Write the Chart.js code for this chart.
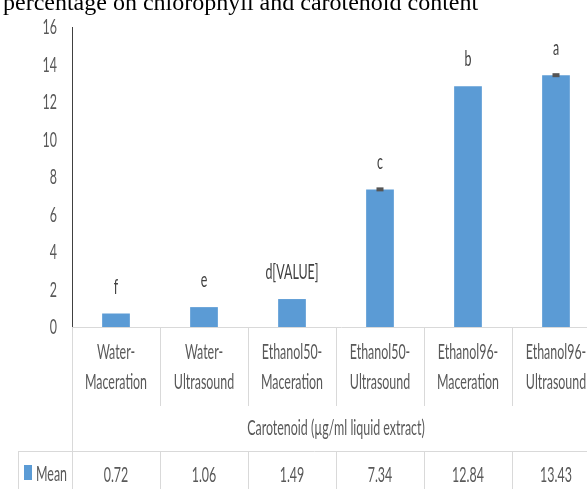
<!DOCTYPE html>
<html>
<head>
<meta charset="utf-8">
<script src="https://cdn.jsdelivr.net/npm/chart.js@4.4.1/dist/chart.umd.min.js"></script>
<style>
html,body{margin:0;padding:0;background:#fff;overflow:hidden;width:587px;height:489px;}
#wrap{position:absolute;left:0;top:0;width:610px;height:489px;}
</style>
</head>
<body>
<div id="wrap"><canvas id="c" width="610" height="489"></canvas></div>
<script>
const title = "percentage on chlorophyll and carotenoid content";
const categories = [["Water-","Maceration"],["Water-","Ultrasound"],["Ethanol50-","Maceration"],["Ethanol50-","Ultrasound"],["Ethanol96-","Maceration"],["Ethanol96-","Ultrasound"]];
const groupLabel = "Carotenoid (\u00b5g/ml liquid extract)";
const seriesName = "Mean";
const meanValues = [0.72, 1.06, 1.49, 7.34, 12.84, 13.43];
const valueLabels = ["0.72","1.06","1.49","7.34","12.84","13.43"];
const errorValues = [0, 0, 0, 0.08, 0, 0.08];
const letters = ["f","e","d[VALUE]","c","b","a"];
const yTicks = [0,2,4,6,8,10,12,14,16];

const BLUE = "#5B9BD5";
const TXT = "#595959";
const LINE = "#d9d9d9";
const FONT = "22px Lato";
const SX = 0.565;

function sText(ctx, s, x, y, align, color, font, sx) {
  ctx.save();
  ctx.font = font || FONT;
  ctx.fillStyle = color || TXT;
  ctx.textBaseline = "middle";
  ctx.translate(x, y);
  ctx.scale(sx || SX, 1);
  ctx.textAlign = align || "center";
  ctx.fillText(s, 0, 0);
  ctx.restore();
}
function hline(ctx, x1, x2, y, c) { ctx.beginPath(); ctx.moveTo(x1, y); ctx.lineTo(x2, y); ctx.strokeStyle = c; ctx.lineWidth = 1; ctx.stroke(); }
function vline(ctx, x, y1, y2, c) { ctx.beginPath(); ctx.moveTo(x, y1); ctx.lineTo(x, y2); ctx.strokeStyle = c; ctx.lineWidth = 1; ctx.stroke(); }

const drawPlugin = {
  id: "extras",
  afterDraw(chart) {
    const ctx = chart.ctx;
    const xs = chart.scales.x, ys = chart.scales.y;
    const area = chart.chartArea;
    const n = categories.length;
    const cw = (area.right - area.left) / n;
    // title
    ctx.save();
    ctx.font = "24px 'Liberation Serif'";
    ctx.fillStyle = "#000";
    ctx.textBaseline = "alphabetic";
    ctx.textAlign = "left";
    ctx.fillText(title, 3, 10);
    ctx.restore();
    // y tick labels
    yTicks.forEach(v => sText(ctx, String(v), 57, ys.getPixelForValue(v), "right"));
    // bottom axis line
    hline(ctx, area.left, area.right + 20, Math.round(area.bottom) + 0.5, LINE);
    // error bars and letters
    const meta = chart.getDatasetMeta(0);
    meta.data.forEach((bar, i) => {
      const e = errorValues[i];
      if (e > 0) {
        const y1 = ys.getPixelForValue(meanValues[i] + e);
        const y2 = ys.getPixelForValue(meanValues[i] - e);
        ctx.fillStyle = "#555";
        ctx.fillRect(bar.x - 3.5, y1 - 0.5, 7, Math.max(3, y2 - y1 + 1));
      }
      sText(ctx, letters[i], bar.x, bar.y - 27, "center", "#404040");
    });
    // table
    const top = Math.round(area.bottom) + 0.5;
    vline(ctx, Math.round(area.left) + 0.5, top, 489, LINE);
    for (let i = 1; i < n; i++) {
      const x = Math.round(xs.getPixelForValue(i) - cw / 2) + 0.5;
      vline(ctx, x, top, 406, LINE);
      vline(ctx, x, 452, 489, LINE);
    }
    categories.forEach((lines, i) => {
      const cx = xs.getPixelForValue(i);
      sText(ctx, lines[0], cx, 352);
      sText(ctx, lines[1], cx, 382);
      sText(ctx, valueLabels[i], cx, 475);
    });
    sText(ctx, groupLabel, (area.left + area.right) / 2, 428);
    hline(ctx, 18, area.right + 20, 451.5, LINE);
    vline(ctx, 18.5, 452, 489, LINE);
    ctx.fillStyle = BLUE;
    ctx.fillRect(24, 465, 8, 15);
    sText(ctx, seriesName, 36, 474, "left");
  }
};

new Chart(document.getElementById("c"), {
  type: "bar",
  data: {
    labels: categories.map(c => c.join("")),
    datasets: [{ label: seriesName, data: meanValues, backgroundColor: BLUE, barPercentage: 0.315, categoryPercentage: 1 }]
  },
  options: {
    responsive: false,
    animation: false,
    layout: { padding: { left: 0, top: 27, right: 10, bottom: 162 } },
    plugins: { legend: { display: false }, tooltip: { enabled: false } },
    scales: {
      x: { display: false },
      y: {
        min: 0, max: 16,
        ticks: { display: false, stepSize: 2 },
        grid: { display: false },
        border: { display: true, color: "#404040", width: 1 },
        afterFit: s => { s.width = 72; }
      }
    }
  },
  plugins: [drawPlugin]
});
</script>
</body>
</html>
